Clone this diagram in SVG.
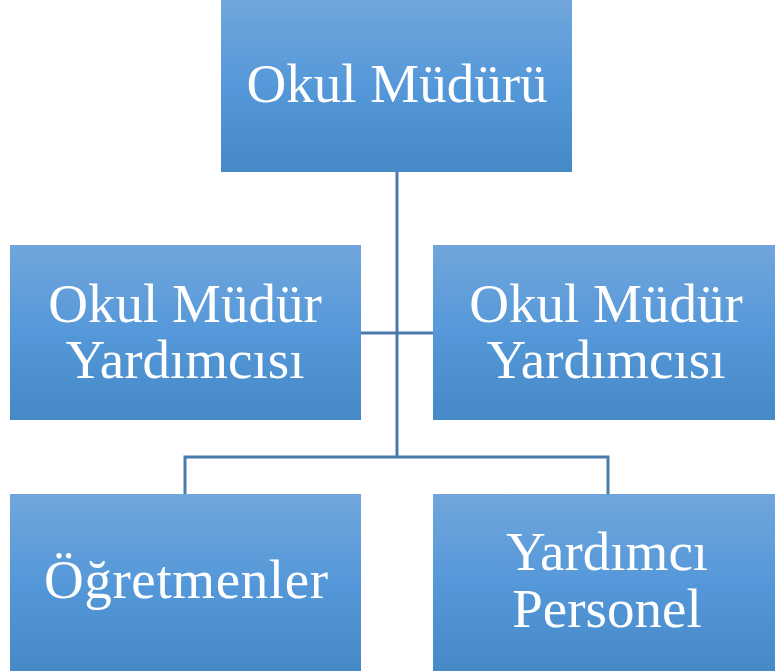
<svg xmlns="http://www.w3.org/2000/svg" width="775" height="671" viewBox="0 0 775 671">
<defs>
<linearGradient id="g" x1="0" y1="0" x2="0" y2="1">
<stop offset="0" stop-color="#71a6dc"/>
<stop offset="0.5" stop-color="#5598d9"/>
<stop offset="1" stop-color="#4589c7"/>
</linearGradient>
<style>
.box{fill:url(#g)}
.t{font-family:"Liberation Serif","DejaVu Serif",serif;font-size:55px;fill:#ffffff;text-anchor:middle}
.c{fill:none;stroke:#4a7bac;stroke-width:3}
</style>
</defs>
<g id="connectors">
<path class="c" d="M397,172 V457"/>
<path class="c" d="M361,333 H433"/>
<path class="c" d="M185,494 V457 H608 V494"/>
</g>
<g id="okul-muduru">
<rect class="box" x="221" y="0" width="351" height="172"/>
<text class="t" x="397" y="102">Okul Müdürü</text>
</g>
<g id="mudur-yardimcisi-1">
<rect class="box" x="10" y="245" width="351" height="175"/>
<text class="t" x="185" y="322">Okul Müdür</text>
<text class="t" x="185" y="378">Yardımcısı</text>
</g>
<g id="mudur-yardimcisi-2">
<rect class="box" x="433" y="245" width="342" height="175"/>
<text class="t" x="606" y="322">Okul Müdür</text>
<text class="t" x="606" y="378">Yardımcısı</text>
</g>
<g id="ogretmenler">
<rect class="box" x="10" y="494" width="351" height="177"/>
<text class="t" x="186" y="598" textLength="284" lengthAdjust="spacing">Öğretmenler</text>
</g>
<g id="yardimci-personel">
<rect class="box" x="433" y="494" width="342" height="177"/>
<text class="t" x="607" y="570">Yardımcı</text>
<text class="t" x="607" y="627">Personel</text>
</g>
</svg>
